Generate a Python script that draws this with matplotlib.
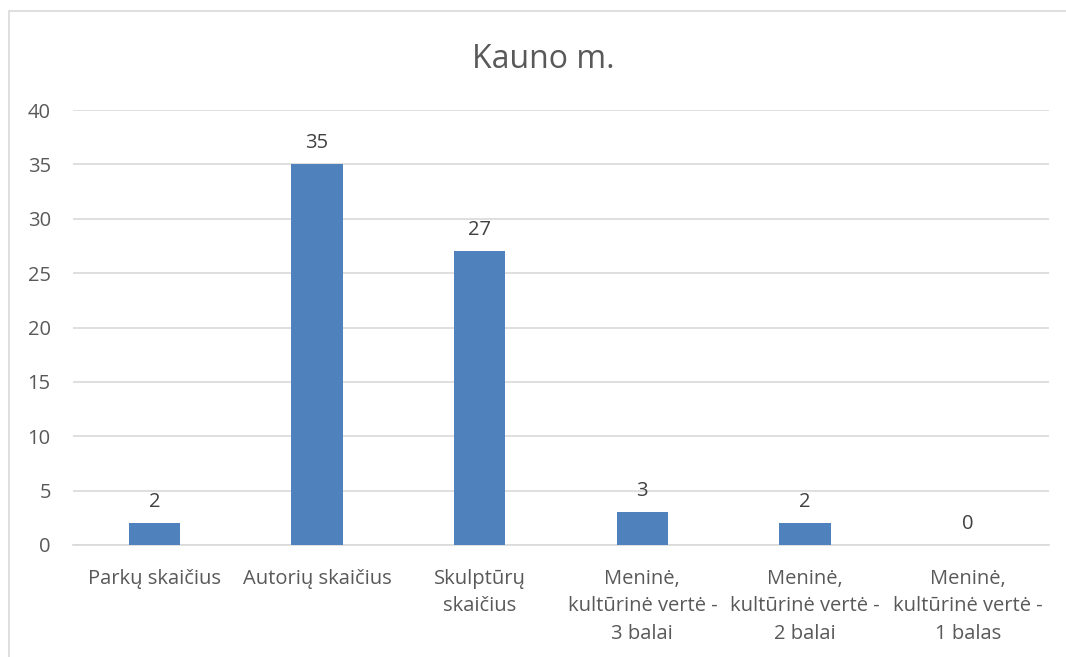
import matplotlib
matplotlib.use("Agg")
import matplotlib.pyplot as plt
from matplotlib.patches import Rectangle

plt.rcParams["font.family"] = ["Open Sans", "DejaVu Sans"]

categories = [
    "Parkų skaičius",
    "Autorių skaičius",
    "Skulptūrų\nskaičius",
    "Meninė,\nkultūrinė vertė -\n3 balai",
    "Meninė,\nkultūrinė vertė -\n2 balai",
    "Meninė,\nkultūrinė vertė -\n1 balas",
]
values = [2, 35, 27, 3, 2, 0]
yticks = [0, 5, 10, 15, 20, 25, 30, 35, 40]

bar_color = "#4F81BD"
text_gray = "#595959"

fig = plt.figure(figsize=(10.66, 6.57), dpi=100)

# chart border (Excel style frame, cut at right and bottom)
fig.patches.append(Rectangle((9 / 1066, -0.05), 1.1, 1 - 11 / 657 + 0.05,
                             transform=fig.transFigure, fill=False,
                             edgecolor="#d9d9d9", linewidth=1.2))

ax = fig.add_axes([73 / 1066, 1 - 545 / 657, 976 / 1066, 435 / 657])
x = list(range(len(categories)))
bars = ax.bar(x, values, width=0.315, color=bar_color, zorder=3)

for xi, v in zip(x, values):
    ax.annotate(str(v), (xi, v), xytext=(0, 8), textcoords="offset points",
                ha="center", va="bottom", fontsize=14.5, color="#404040")

ax.set_xlim(-0.5, len(categories) - 0.5)
ax.set_ylim(0, 40)
ax.set_yticks(yticks)
ax.set_xticks(x)
ax.set_xticklabels(categories, fontsize=14.5, color=text_gray, linespacing=1.5)
ax.tick_params(axis="y", labelsize=14.5, labelcolor=text_gray, length=0, pad=16)
ax.tick_params(axis="x", length=0, pad=17)
ax.grid(axis="y", color="#d9d9d9", linewidth=1.2, zorder=0)
for s in ["top", "right", "left"]:
    ax.spines[s].set_visible(False)
ax.spines["bottom"].set_color("#d9d9d9")
ax.spines["bottom"].set_linewidth(1.2)

fig.text(543 / 1066, 1 - 60 / 657, "Kauno m.", ha="center", va="center",
         fontsize=23, color=text_gray)

fig.savefig("out.png", dpi=100, facecolor="white")
